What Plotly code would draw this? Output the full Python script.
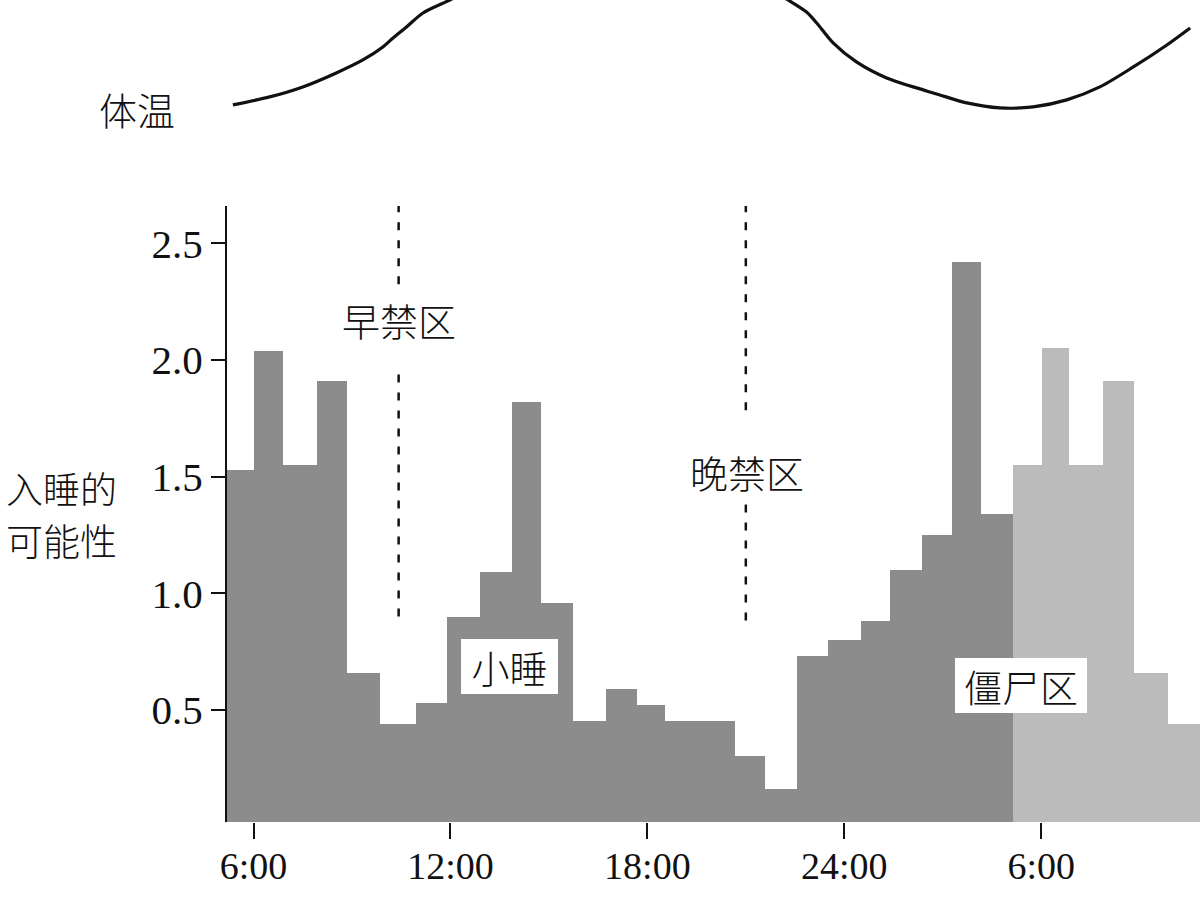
import plotly.graph_objects as go

# ---------------- data ----------------
# time bins (hours since midnight of day 1; values > 24 are next day)
dark_bin_edges_h = [5.19, 6.01, 6.89, 7.93, 8.84, 9.84, 10.94, 11.88, 12.89, 13.87,
                    14.75, 15.74, 16.75, 17.69, 18.55, 19.60, 20.67, 21.58, 22.56,
                    23.49, 24.51, 25.40, 26.36, 27.27, 28.17, 29.15]
dark_values = [1.53, 2.04, 1.55, 1.91, 0.66, 0.44, 0.53, 0.90, 1.09, 1.82,
               0.96, 0.45, 0.59, 0.52, 0.45, 0.45, 0.30, 0.16, 0.73, 0.80,
               0.88, 1.10, 1.25, 2.42, 1.34]

light_bin_edges_h = [29.15, 30.02, 30.86, 31.88, 32.84, 33.85, 34.84]
light_values = [1.55, 2.05, 1.55, 1.91, 0.66, 0.44]

# body temperature curve (relative, degC)
temp_time_h = [5.37, 6.49, 7.50, 8.52, 9.33, 9.94, 10.25, 10.66, 11.16, 11.98,
               13.50, 15.33, 17.16, 19.29, 21.12, 22.29, 22.85, 23.16, 23.66,
               24.37, 25.29, 26.51, 26.91, 27.73, 28.74, 29.76, 30.78, 31.79,
               32.81, 33.83, 34.54]
temp_c = [36.15, 36.23, 36.33, 36.47, 36.60, 36.73, 36.82, 36.93, 37.07, 37.20,
          37.45, 37.65, 37.72, 37.65, 37.42, 37.20, 37.08, 36.97, 36.77,
          36.58, 36.42, 36.29, 36.25, 36.17, 36.12, 36.13, 36.20, 36.33,
          36.53, 36.75, 36.92]

x_tick_vals = [6, 12, 18, 24, 30]
x_tick_text = ["6:00", "12:00", "18:00", "24:00", "6:00"]
y_tick_vals = [0.5, 1.0, 1.5, 2.0, 2.5]
y_tick_text = ["0.5", "1.0", "1.5", "2.0", "2.5"]

early_zone_h = 10.42
late_zone_h = 21.0

# ---------------- helpers ----------------
def centers_widths(edges):
    c = [(a + b) / 2 for a, b in zip(edges[:-1], edges[1:])]
    w = [b - a for a, b in zip(edges[:-1], edges[1:])]
    return c, w

dark_c, dark_w = centers_widths(dark_bin_edges_h)
light_c, light_w = centers_widths(light_bin_edges_h)

SERIF = "Liberation Serif, Times New Roman, serif"
CJK = "Noto Sans CJK SC"
INK = "#111111"

fig = go.Figure()
fig.add_trace(go.Bar(x=dark_c, y=dark_values, width=dark_w, base=0,
                     marker=dict(color="#8d8c8d", line=dict(width=0)),
                     showlegend=False, xaxis="x", yaxis="y"))
fig.add_trace(go.Bar(x=light_c, y=light_values, width=light_w, base=0,
                     marker=dict(color="#bbbbbb", line=dict(width=0)),
                     showlegend=False, xaxis="x", yaxis="y"))
fig.add_trace(go.Scatter(x=temp_time_h, y=temp_c, mode="lines",
                         line=dict(color=INK, width=3.2, shape="spline", smoothing=0.8),
                         showlegend=False, xaxis="x", yaxis="y2"))

# dashed forbidden-zone markers
dash = "8px,10px"
for x0, segs in [(early_zone_h, [(2.324, 2.667), (0.874, 1.938)]),
                 (late_zone_h, [(1.745, 2.667), (0.855, 1.380)])]:
    for y0, y1 in segs:
        fig.add_shape(type="line", xref="x", yref="y", x0=x0, x1=x0, y0=y1, y1=y0,
                      line=dict(color=INK, width=2.5, dash=dash))

ann_font = dict(family=CJK, size=38, color=INK, weight=300)
fig.add_annotation(text="早禁区", x=early_zone_h, y=2.174, xref="x", yref="y",
                   xanchor="center", yanchor="middle",
                   showarrow=False, font=ann_font)
fig.add_annotation(text="晚禁区", x=21.05, y=1.523, xref="x", yref="y",
                   xanchor="center", yanchor="middle",
                   showarrow=False, font=ann_font)
fig.add_annotation(text="小睡", x=13.81, y=0.685, xref="x", yref="y",
                   xanchor="center", yanchor="middle",
                   showarrow=False, font=ann_font, bgcolor="white",
                   width=97, height=55, borderpad=0, borderwidth=0)
fig.add_annotation(text="僵尸区", x=29.38, y=0.604, xref="x", yref="y",
                   xanchor="center", yanchor="middle",
                   showarrow=False, font=ann_font, bgcolor="white",
                   width=132, height=55, borderpad=0, borderwidth=0)
# y-axis title, two lines
title_font = dict(family=CJK, size=37, color=INK, weight=300)
fig.add_annotation(text="入睡的", x=-0.17, y=0.4063, xref="paper", yref="paper",
                   xanchor="center", yanchor="middle", showarrow=False, font=title_font)
fig.add_annotation(text="可能性", x=-0.17, y=0.3431, xref="paper", yref="paper",
                   xanchor="center", yanchor="middle", showarrow=False, font=title_font)
fig.add_annotation(text="体温", x=-0.0925, y=0.8686, xref="paper", yref="paper",
                   xanchor="center", yanchor="middle",
                   showarrow=False, font=ann_font)

xaxis = dict(range=[5.19, 34.84], tickvals=x_tick_vals, ticktext=x_tick_text,
             ticks="outside", ticklen=16, tickwidth=2, tickcolor=INK,
             showline=False, showgrid=False, zeroline=False,
             tickfont=dict(family=SERIF, size=38, color=INK),
             anchor="y")

fig.update_layout(
    width=1200, height=900,
    margin=dict(l=227, r=0, t=0, b=78),
    paper_bgcolor="white", plot_bgcolor="white",
    bargap=0,
    xaxis=xaxis,
    yaxis=dict(domain=[0, 0.7494], range=[0.019, 2.66],
               tickvals=y_tick_vals, ticktext=y_tick_text,
               ticks="outside", ticklen=14, tickwidth=2, tickcolor=INK,
               showline=True, linecolor=INK, linewidth=2,
               showgrid=False, zeroline=False,
               tickfont=dict(family=SERIF, size=41, color=INK),
               anchor="x"),
    yaxis2=dict(domain=[0.842, 1], range=[35.9, 37.2], visible=False, anchor="x"),
)
try:
    fig.update_xaxes(ticklabelstandoff=-6)
except Exception:
    pass

fig.write_html("out.html")
